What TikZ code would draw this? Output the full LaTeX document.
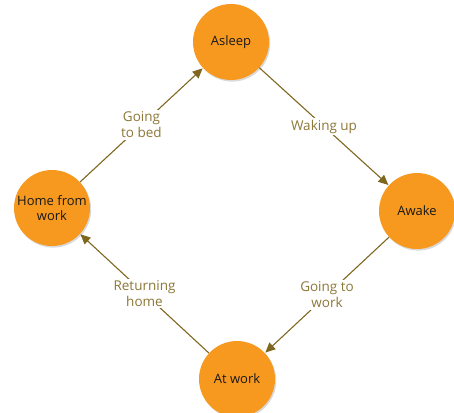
\documentclass[tikz,border=0pt]{standalone}
\usepackage{fontspec}
\setmainfont{Open Sans}
\usetikzlibrary{arrows.meta,shadows}
\definecolor{stateorange}{HTML}{F7991F}
\definecolor{edgebrown}{HTML}{7F6720}
\definecolor{labelbrown}{HTML}{8C7838}
\tikzset{
  state/.style={circle, fill=stateorange, minimum size=76pt, inner sep=0pt,
    align=center, font=\fontsize{13}{15.5}\selectfont, text=black!90,
    drop shadow={opacity=0.25, shadow xshift=1.2pt, shadow yshift=-1.6pt, fill=black!60}},
  trans/.style={draw=edgebrown, line width=1.1pt,
    -{Triangle[length=10pt,width=9pt]}, shorten >=0.5pt},
  tlabel/.style={fill=white, inner sep=1.5pt, align=center, text=labelbrown,
    font=\fontsize{13.5}{16}\selectfont}
}
\begin{document}
\begin{tikzpicture}[x=1pt, y=-1pt]
  \useasboundingbox (0,0) rectangle (454,412);
  % the four daily states
  \node[state] (asleep) at (231,42) {Asleep};
  \node[state] (awake) at (417,211) {Awake};
  \node[state] (work) at (237,379) {At work};
  \node[state] (home) at (52,208) {Home from\\work};
  % transitions between them
  \draw[trans] (home) -- node[tlabel] {Going\\to bed} (asleep);
  \draw[trans] (asleep) -- node[tlabel, pos=0.5] {Waking up} (awake);
  \draw[trans] (awake) -- node[tlabel] {Going to\\work} (work);
  \draw[trans] (work) -- node[tlabel] {Returning\\home} (home);
\end{tikzpicture}
\end{document}
